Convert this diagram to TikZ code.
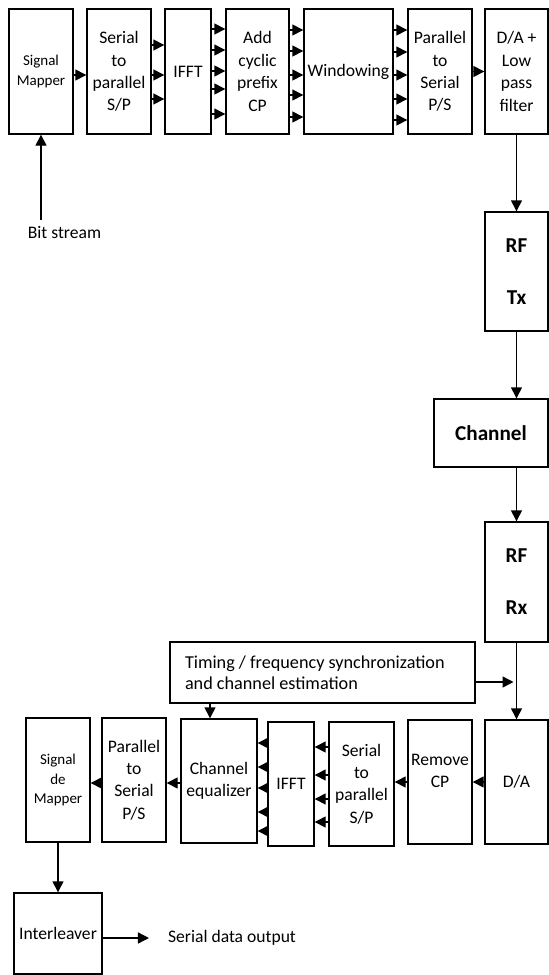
\documentclass[tikz,border=0pt]{standalone}
\usepackage{fontspec}
\setmainfont{Carlito}
\usetikzlibrary{arrows.meta}

\tikzset{
  blk/.style={draw,line width=0.7pt,align=flush center,inner sep=1pt,
    font=\fontsize{8.8}{11.2}\selectfont},
  bigtxt/.style={font=\bfseries\fontsize{10.6}{13}\selectfont},
  smalltxt/.style={font=\fontsize{7.5}{9.6}\selectfont},
  conn/.style={->,line width=0.7pt},
}

\begin{document}
\begin{tikzpicture}[x=0.5pt,y=-0.5pt,>={Triangle[length=5.5pt,width=5.5pt]}]
  \useasboundingbox (0,0) rectangle (549,975);
  % transmitter chain
  \node[blk,smalltxt,minimum width=32pt,minimum height=62.5pt](map) at (41,71.5){Signal\\Mapper};
  \node[blk,minimum width=32pt,minimum height=62.5pt](sp) at (119,71.5){Serial\\to\\parallel\\S/P};
  \node[blk,minimum width=23pt,minimum height=62.5pt](ifft) at (188,71.5){IFFT};
  \node[blk,minimum width=31.5pt,minimum height=62.5pt](acp) at (257.5,71.5){Add\\cyclic\\prefix\\CP};
  \node[blk,minimum width=44.5pt,minimum height=62.5pt](win) at (348.5,71.5){Windowing};
  \node[blk,minimum width=32pt,minimum height=62.5pt](ps) at (440,71.5){Parallel\\to\\Serial\\P/S};
  \node[blk,minimum width=31.5pt,minimum height=62.5pt](dac) at (516.5,71.5){D/A +\\Low\\pass\\filter};
  \node[font=\fontsize{8.8}{11.2}\selectfont](bits) at (64.5,233){Bit stream};
  % radio part
  \node[blk,bigtxt,minimum width=31.5pt,minimum height=59.5pt](rftx) at (516.5,271.5){RF\\[13pt]Tx};
  \node[blk,bigtxt,minimum width=57pt,minimum height=34pt](chan) at (491,433){Channel};
  \node[blk,bigtxt,minimum width=31.5pt,minimum height=60pt](rfrx) at (516.5,582){RF\\[13pt]Rx};
  \node[draw,line width=0.7pt,minimum width=152.5pt,minimum height=30.5pt,text width=137.5pt,
    inner xsep=7.5pt,align=flush left,font=\fontsize{9.1}{10.5}\selectfont](tim) at (322.5,672.5)
    {Timing / frequency synchronization\\and channel estimation};
  % receiver chain
  \node[blk,minimum width=31.5pt,minimum height=62pt](da) at (516.5,782){D/A};
  \node[blk,minimum width=32pt,minimum height=62pt](rcp) at (440,782){Remove\\CP\\~};
  \node[blk,minimum width=32.5pt,minimum height=62pt](sp2) at (361.5,784){Serial\\to\\parallel\\S/P};
  \node[blk,minimum width=23pt,minimum height=62pt](ifft2) at (291,784){IFFT};
  \node[blk,minimum width=38pt,minimum height=62pt](eq) at (219,781){Channel\\equalizer};
  \node[blk,minimum width=32pt,minimum height=62pt](ps2) at (134,780){Parallel\\to\\Serial\\P/S};
  \node[blk,smalltxt,minimum width=32pt,minimum height=62pt](demap) at (58,780){Signal\\de\\Mapper};
  \node[blk,minimum width=44pt,minimum height=40.5pt](intl) at (58,933.5){Interleaver};
  \node[font=\fontsize{8.8}{11.2}\selectfont](out) at (232,938){Serial data output};

  % arrows, top row
  \draw[conn] (map.south |- bits.north) -- (map.south);
  \draw[conn] (map.east |- 0,75) -- (sp.west |- 0,75);
  \foreach \y in {45,75,99}
    \draw[conn] (sp.east |- 0,\y) -- (ifft.west |- 0,\y);
  \foreach \y in {29,50,71,89,114}
    \draw[conn] (ifft.east |- 0,\y) -- (acp.west |- 0,\y);
  \foreach \y in {30,51,75,95,117}
    \draw[conn] (acp.east |- 0,\y) -- (win.west |- 0,\y);
  \foreach \y in {30,52,75,99,120}
    \draw[conn] (win.east |- 0,\y) -- (ps.west |- 0,\y);
  \draw[conn] (ps.east) -- (dac.west);
  % down the right side
  \draw[conn] (dac.south) -- (rftx.north);
  \draw[conn] (rftx.south) -- (rftx.south |- chan.north);
  \draw[conn] (rfrx.north |- chan.south) -- (rfrx.north);
  \draw[conn] (rfrx.south) -- (da.north);
  \draw[conn] (tim.east |- 0,682) -- ([xshift=-1.5pt]rfrx.south |- 0,682);
  \draw[conn] (tim.south -| 210,0) -- (eq.north -| 210,0);
  % arrows, bottom row
  \draw[conn] (da.west) -- (rcp.east);
  \draw[conn] (rcp.west) -- (sp2.east |- rcp.west);
  \foreach \y in {747,775,799,822}
    \draw[conn] (sp2.west |- 0,\y) -- (ifft2.east |- 0,\y);
  \foreach \y in {743,767,788,812,831}
    \draw[conn] (ifft2.west |- 0,\y) -- (eq.east |- 0,\y);
  \draw[conn] (eq.west |- 0,783) -- (ps2.east |- 0,783);
  \draw[conn] (ps2.west |- 0,783) -- (demap.east |- 0,783);
  \draw[conn] (demap.south) -- (intl.north);
  \draw[conn] (intl.east |- out.west) -- ([xshift=-6pt]out.west);
\end{tikzpicture}
\end{document}
